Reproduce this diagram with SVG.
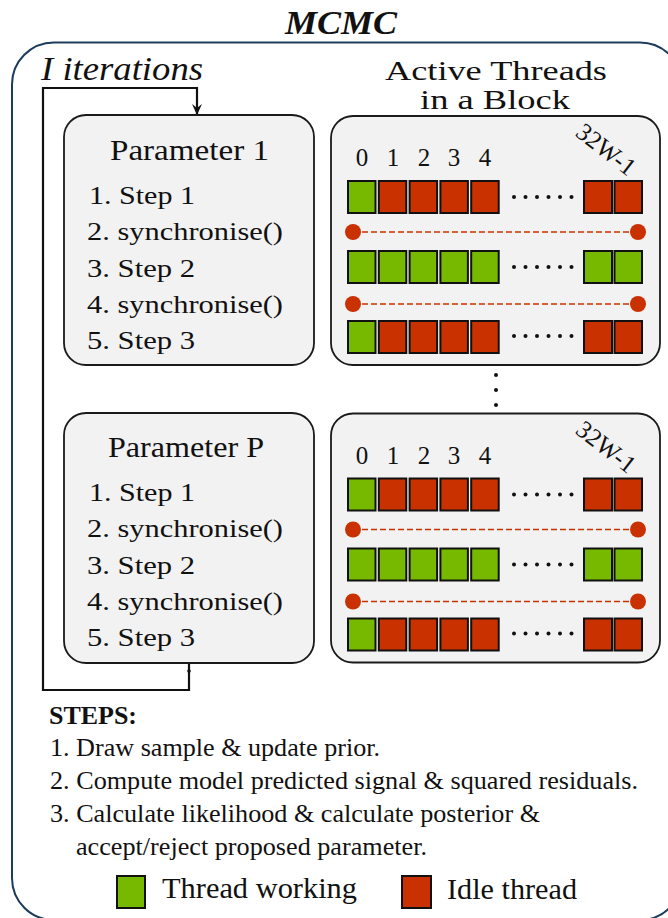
<svg xmlns="http://www.w3.org/2000/svg" xmlns:xlink="http://www.w3.org/1999/xlink" width="668" height="918" viewBox="0 0 668 918" font-family="'Liberation Serif', 'Times New Roman', Times, serif">
  <style>
    text { fill: #111; }
    .frame { fill: none; stroke: #1d3c5c; stroke-width: 2; }
    .box { fill: #f2f2f2; stroke: #1a1a1a; stroke-width: 1.8; }
    .work { fill: #76b900; stroke: #111; stroke-width: 2; }
    .idle { fill: #c93200; stroke: #111; stroke-width: 2; }
    .sync { stroke: #c93200; stroke-width: 1.6; stroke-dasharray: 6 3; fill: none; }
    .node-dot { fill: #c93200; }
    .dot { fill: #111; }
    .flow { fill: none; stroke: #111; stroke-width: 2.2; }
    .title { font-size: 34px; font-weight: bold; font-style: italic; }
    .head { font-size: 30px; }
    .sub { font-size: 28px; }
    .step { font-size: 26px; }
    .idx { font-size: 25px; text-anchor: middle; }
    .note { font-size: 25px; }
    .legend { font-size: 29px; }
  </style>
  <defs>
    <marker id="arrow" viewBox="0 0 10 10" refX="9" refY="5" markerWidth="11" markerHeight="11" markerUnits="userSpaceOnUse" orient="auto">
      <path d="M0,0.5 L10,5 L0,9.5 L3.5,5 Z" fill="#111"/>
    </marker>
    <!-- one block of thread lanes, drawn at the first block's position -->
    <g id="lanes">
      <rect class="box" x="331" y="116" width="329" height="249" rx="22"/>
      <text class="idx" x="362" y="166">0</text>
      <text class="idx" x="393" y="166">1</text>
      <text class="idx" x="424" y="166">2</text>
      <text class="idx" x="454" y="166">3</text>
      <text class="idx" x="485" y="166">4</text>
      <text class="idx" x="601" y="156" transform="rotate(38 601 156)">32W-1</text>
      <!-- lane row 1 -->
      <rect class="work" x="348" y="181" width="27.5" height="32"/>
      <rect class="idle" x="378.8" y="181" width="27.5" height="32"/>
      <rect class="idle" x="409.6" y="181" width="27.5" height="32"/>
      <rect class="idle" x="440.4" y="181" width="27.5" height="32"/>
      <rect class="idle" x="471.2" y="181" width="27.5" height="32"/>
      <rect class="idle" x="584" y="181" width="28" height="32"/>
      <rect class="idle" x="614.5" y="181" width="27.5" height="32"/>
      <!-- barrier 1 -->
      <line class="sync" x1="353" y1="232" x2="638" y2="232"/>
      <circle class="node-dot" cx="353" cy="232" r="8"/>
      <circle class="node-dot" cx="638" cy="232" r="8"/>
      <!-- lane row 2 -->
      <rect class="work" x="348" y="251" width="27.5" height="32"/>
      <rect class="work" x="378.8" y="251" width="27.5" height="32"/>
      <rect class="work" x="409.6" y="251" width="27.5" height="32"/>
      <rect class="work" x="440.4" y="251" width="27.5" height="32"/>
      <rect class="work" x="471.2" y="251" width="27.5" height="32"/>
      <rect class="work" x="584" y="251" width="28" height="32"/>
      <rect class="work" x="614.5" y="251" width="27.5" height="32"/>
      <!-- barrier 2 -->
      <line class="sync" x1="353" y1="304" x2="638" y2="304"/>
      <circle class="node-dot" cx="353" cy="304" r="8"/>
      <circle class="node-dot" cx="638" cy="304" r="8"/>
      <!-- lane row 3 -->
      <rect class="work" x="348" y="321" width="27.5" height="32"/>
      <rect class="idle" x="378.8" y="321" width="27.5" height="32"/>
      <rect class="idle" x="409.6" y="321" width="27.5" height="32"/>
      <rect class="idle" x="440.4" y="321" width="27.5" height="32"/>
      <rect class="idle" x="471.2" y="321" width="27.5" height="32"/>
      <rect class="idle" x="584" y="321" width="28" height="32"/>
      <rect class="idle" x="614.5" y="321" width="27.5" height="32"/>
      <!-- ellipsis dots -->
      <g class="dot">
        <circle cx="514" cy="197" r="2"/><circle cx="525.5" cy="197" r="2"/><circle cx="537" cy="197" r="2"/>
        <circle cx="548.5" cy="197" r="2"/><circle cx="560" cy="197" r="2"/><circle cx="571.5" cy="197" r="2"/>
        <circle cx="514" cy="267" r="2"/><circle cx="525.5" cy="267" r="2"/><circle cx="537" cy="267" r="2"/>
        <circle cx="548.5" cy="267" r="2"/><circle cx="560" cy="267" r="2"/><circle cx="571.5" cy="267" r="2"/>
        <circle cx="514" cy="336" r="2"/><circle cx="525.5" cy="336" r="2"/><circle cx="537" cy="336" r="2"/>
        <circle cx="548.5" cy="336" r="2"/><circle cx="560" cy="336" r="2"/><circle cx="571.5" cy="336" r="2"/>
      </g>
    </g>
  </defs>

  <!-- outer MCMC frame -->
  <g id="mcmc-frame">
    <rect class="frame" x="12" y="42.5" width="670" height="877.5" rx="42"/>
    <text class="title" x="285" y="34" textLength="112" lengthAdjust="spacingAndGlyphs">MCMC</text>
  </g>

  <g id="iterations-label">
    <text x="41" y="80" font-size="33" font-style="italic" textLength="162" lengthAdjust="spacingAndGlyphs">I iterations</text>
  </g>

  <g id="threads-heading">
    <text class="sub" x="385" y="80" textLength="222" lengthAdjust="spacingAndGlyphs">Active Threads</text>
    <text class="sub" x="420" y="109" textLength="150" lengthAdjust="spacingAndGlyphs">in a Block</text>
  </g>

  <!-- loop over iterations -->
  <g id="connectors">
    <polyline class="flow" points="189,663 189,690 43,690 43,88 197,88 197,114" marker-end="url(#arrow)"/>
    <circle cx="189" cy="671" r="1.8" fill="#111"/>
  </g>

  <g id="parameter-1">
    <rect class="box" x="64" y="115" width="250" height="250" rx="22"/>
    <text class="head" x="110" y="160" textLength="159" lengthAdjust="spacingAndGlyphs">Parameter 1</text>
    <text class="step" x="89" y="204" textLength="106" lengthAdjust="spacingAndGlyphs">1. Step 1</text>
    <text class="step" x="87" y="240" textLength="196" lengthAdjust="spacingAndGlyphs">2. synchronise()</text>
    <text class="step" x="87" y="277" textLength="108" lengthAdjust="spacingAndGlyphs">3. Step 2</text>
    <text class="step" x="87" y="313" textLength="196" lengthAdjust="spacingAndGlyphs">4. synchronise()</text>
    <text class="step" x="87" y="349" textLength="108" lengthAdjust="spacingAndGlyphs">5. Step 3</text>
  </g>

  <g id="parameter-p">
    <rect class="box" x="64" y="413" width="250" height="250" rx="22"/>
    <text class="head" x="108" y="457" textLength="156" lengthAdjust="spacingAndGlyphs">Parameter P</text>
    <text class="step" x="89" y="501" textLength="106" lengthAdjust="spacingAndGlyphs">1. Step 1</text>
    <text class="step" x="87" y="537" textLength="196" lengthAdjust="spacingAndGlyphs">2. synchronise()</text>
    <text class="step" x="87" y="574" textLength="108" lengthAdjust="spacingAndGlyphs">3. Step 2</text>
    <text class="step" x="87" y="610" textLength="196" lengthAdjust="spacingAndGlyphs">4. synchronise()</text>
    <text class="step" x="87" y="646" textLength="108" lengthAdjust="spacingAndGlyphs">5. Step 3</text>
  </g>

  <g id="threads-block-1">
    <use xlink:href="#lanes" href="#lanes"/>
  </g>

  <g id="more-blocks">
    <circle class="dot" cx="496" cy="375" r="2"/>
    <circle class="dot" cx="496" cy="390" r="2"/>
    <circle class="dot" cx="496" cy="405" r="2"/>
  </g>

  <g id="threads-block-p">
    <use xlink:href="#lanes" href="#lanes" transform="translate(0 297.5)"/>
  </g>

  <g id="steps-notes">
    <text class="note" x="49" y="724" font-weight="bold" textLength="88" lengthAdjust="spacingAndGlyphs">STEPS:</text>
    <text class="note" x="50" y="756" textLength="330" lengthAdjust="spacingAndGlyphs">1. Draw sample &amp; update prior.</text>
    <text class="note" x="50" y="789" textLength="588" lengthAdjust="spacingAndGlyphs">2. Compute model predicted signal &amp; squared residuals.</text>
    <text class="note" x="50" y="822" textLength="490" lengthAdjust="spacingAndGlyphs">3. Calculate likelihood &amp; calculate posterior &amp;</text>
    <text class="note" x="76" y="855" textLength="351" lengthAdjust="spacingAndGlyphs">accept/reject proposed parameter.</text>
  </g>

  <g id="legend">
    <rect class="work" x="117" y="876" width="28" height="32"/>
    <text class="legend" x="162" y="898" textLength="195" lengthAdjust="spacingAndGlyphs">Thread working</text>
    <rect class="idle" x="402" y="876" width="29" height="32"/>
    <text class="legend" x="447" y="899" textLength="130" lengthAdjust="spacingAndGlyphs">Idle thread</text>
  </g>
</svg>
